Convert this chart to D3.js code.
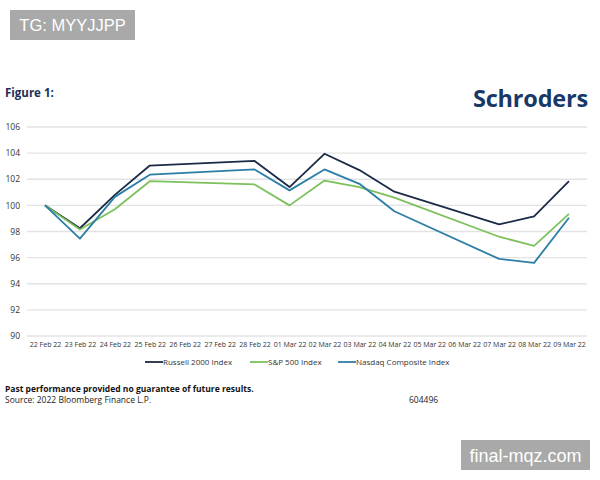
<!DOCTYPE html>
<html>
<head>
<meta charset="utf-8">
<script src="https://cdn.jsdelivr.net/npm/d3@7"></script>
<style>
  body { margin: 0; background: #fff; }
  svg { display: block; font-family: "Open Sans", "Noto Sans", sans-serif; }
</style>
</head>
<body>
<div id="chart"></div>
<script>
// Axis labels (every calendar day shown)
const dates = ["22 Feb 22", "23 Feb 22", "24 Feb 22", "25 Feb 22", "26 Feb 22", "27 Feb 22",
  "28 Feb 22", "01 Mar 22", "02 Mar 22", "03 Mar 22", "04 Mar 22", "05 Mar 22",
  "06 Mar 22", "07 Mar 22", "08 Mar 22", "09 Mar 22"];
// Trading days only (weekends are skipped by the lines)
const tradingDays = ["22 Feb 22", "23 Feb 22", "24 Feb 22", "25 Feb 22", "28 Feb 22",
  "01 Mar 22", "02 Mar 22", "03 Mar 22", "04 Mar 22", "07 Mar 22", "08 Mar 22", "09 Mar 22"];
const russell = [100, 98.25, 100.8, 103.05, 103.4, 101.4, 103.95, 102.7, 101.05, 98.55, 99.15, 101.85];
const sp500 = [100, 98.15, 99.7, 101.85, 101.6, 100.0, 101.9, 101.4, 100.6, 97.6, 96.9, 99.35];
const nasdaq = [100, 97.45, 100.65, 102.35, 102.75, 101.15, 102.75, 101.65, 99.55, 95.9, 95.6, 99.05];
const yTicks = [90, 92, 94, 96, 98, 100, 102, 104, 106];

const series = [
  { name: "Russell 2000 Index", values: russell, color: "#1b2a47" },
  { name: "S&P 500 Index", values: sp500, color: "#7cc15b" },
  { name: "Nasdaq Composite Index", values: nasdaq, color: "#2b7ea6" }
];

const width = 600, height = 480;
const svg = d3.select("#chart").append("svg")
  .attr("width", width)
  .attr("height", height);

// Watermark top
svg.append("rect").attr("x", 10).attr("y", 10).attr("width", 125).attr("height", 30).attr("fill", "#a9a9a9");
svg.append("text").attr("x", 72.5).attr("y", 31).attr("text-anchor", "middle").attr("fill", "#fff")
  .style("font-family", "Liberation Sans, Arial, sans-serif").style("font-size", "16.5px")
  .text("TG: MYYJJPP");

// Title and logo
svg.append("text").attr("x", 5).attr("y", 97).attr("fill", "#1a2e5a")
  .style("font-size", "11.5px").style("font-weight", "bold").text("Figure 1:");
svg.append("text").attr("x", 588).attr("y", 107).attr("text-anchor", "end").attr("fill", "#183868")
  .style("font-size", "23.5px").style("font-weight", "bold").style("letter-spacing", "-0.2px")
  .text("Schroders");

// Scales
const x = d3.scalePoint().domain(dates).range([45, 569]);
const y = d3.scaleLinear().domain([90, 106]).range([336, 127]);

// Grid
svg.append("g").selectAll("line").data(yTicks).join("line")
  .attr("x1", 27).attr("x2", 587)
  .attr("y1", d => y(d)).attr("y2", d => y(d))
  .attr("stroke", "#e3e3e3").attr("stroke-width", 1.3);

// Y axis labels
const yAxis = svg.append("g").attr("transform", "translate(20,0)")
  .call(d3.axisLeft(y).tickValues(yTicks).tickSize(0).tickPadding(0));
yAxis.select(".domain").remove();
yAxis.selectAll("text").attr("fill", "#333").style("font-size", "8.5px")
  .style("font-family", "Open Sans, sans-serif");

// X axis labels
const xAxis = svg.append("g").attr("transform", "translate(0,342)")
  .call(d3.axisBottom(x).tickSize(0).tickPadding(0));
xAxis.select(".domain").remove();
xAxis.selectAll("text").attr("fill", "#333").style("font-size", "7px")
  .style("font-family", "Open Sans, sans-serif").attr("dy", "0.71em");

// Lines
const line = d3.line()
  .x((d, i) => x(tradingDays[i]))
  .y(d => y(d));

svg.append("g").selectAll("path").data(series).join("path")
  .attr("d", d => line(d.values))
  .attr("fill", "none")
  .attr("stroke", d => d.color)
  .attr("stroke-width", 1.8)
  .attr("stroke-linejoin", "round");

// Legend
const legendX = [145, 250, 338];
const legend = svg.append("g").selectAll("g").data(series).join("g")
  .attr("transform", (d, i) => `translate(${legendX[i]},362)`);
legend.append("line").attr("x1", 0).attr("x2", 18).attr("y1", 0).attr("y2", 0)
  .attr("stroke", d => d.color).attr("stroke-width", 1.8);
legend.append("text").attr("x", 18).attr("y", 3).attr("fill", "#333")
  .style("font-size", "8px").text(d => d.name);

// Footer
svg.append("text").attr("x", 5).attr("y", 392).attr("fill", "#111")
  .style("font-size", "8.5px").style("font-weight", "bold")
  .text("Past performance provided no guarantee of future results.");
svg.append("text").attr("x", 5).attr("y", 403).attr("fill", "#222")
  .style("font-size", "8.5px").text("Source: 2022 Bloomberg Finance L.P.");
svg.append("text").attr("x", 409).attr("y", 403).attr("fill", "#222")
  .style("font-size", "8.5px").text("604496");

// Watermark bottom
svg.append("rect").attr("x", 461).attr("y", 440).attr("width", 129).attr("height", 30).attr("fill", "#a9a9a9");
svg.append("text").attr("x", 525.5).attr("y", 462).attr("text-anchor", "middle").attr("fill", "#fff")
  .style("font-family", "Liberation Sans, Arial, sans-serif").style("font-size", "18px")
  .text("final-mqz.com");
</script>
</body>
</html>
